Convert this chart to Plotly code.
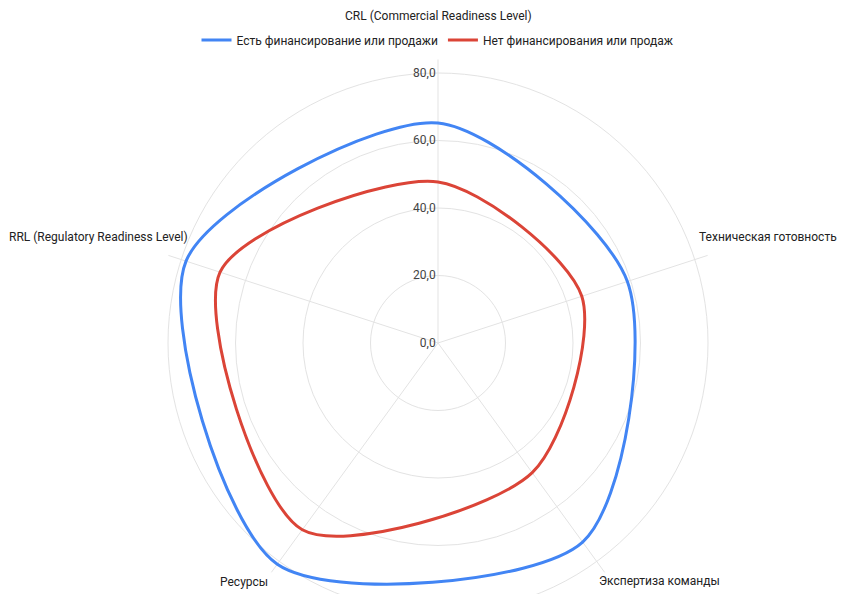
import plotly.graph_objects as go

categories = ["CRL (Commercial Readiness Level)", "Техническая готовность",
              "Экспертиза команды", "Ресурсы", "RRL (Regulatory Readiness Level)"]
series_names = ["Есть финансирование или продажи", "Нет финансирования или продаж"]
funded = [65.2, 59.0, 72.9, 81.0, 78.5]
not_funded = [47.7, 44.8, 47.5, 68.4, 67.9]
radial_ticks = [0, 20, 40, 60, 80]

W, H = 841, 630
cx, cy = 438, 343
rmax = 84
px_per_unit = 270 / 80
R = rmax * px_per_unit

dom_x = [(cx - R) / W, (cx + R) / W]
dom_y = [(H - cy - R) / H, (H - cy + R) / H]

fig = go.Figure()
for name, vals, col in [(series_names[0], funded, "#4285F4"),
                        (series_names[1], not_funded, "#DB4437")]:
    fig.add_trace(go.Scatterpolar(
        r=vals + vals[:1], theta=categories + categories[:1], name=name,
        mode="lines", line=dict(color=col, width=3, shape="spline", smoothing=0.8),
        hoverinfo="skip"))

fig.update_layout(
    width=W, height=H, margin=dict(l=0, r=0, t=0, b=0),
    paper_bgcolor="white", plot_bgcolor="white",
    separators=", ",
    font=dict(family="Roboto, Arial, sans-serif", size=12, color="#222222"),
    showlegend=True,
    legend=dict(orientation="h", x=cx / W, xanchor="center", y=1 - 40 / H, yanchor="middle",
                font=dict(size=12, color="#222222"), itemwidth=30, bgcolor="rgba(0,0,0,0)"),
    polar=dict(
        domain=dict(x=dom_x, y=dom_y),
        bgcolor="white",
        radialaxis=dict(range=[0, rmax], tickvals=radial_ticks, tickformat=".1f",
                        angle=90, tickangle=90, side="counterclockwise",
                        showline=False, ticks="",
                        gridcolor="#e3e3e3", gridwidth=1,
                        tickfont=dict(size=12, color="#444444")),
        angularaxis=dict(direction="clockwise", rotation=90, showline=False,
                         showticklabels=False, ticks="", gridcolor="#e3e3e3", gridwidth=1),
    ),
)

label_pos = [
    (438, 16, "center"),
    (697, 237, "left"),
    (659, 581, "center"),
    (244, 582, "center"),
    (190, 237, "right"),
]
for cat, (x, y, anc) in zip(categories, label_pos):
    fig.add_annotation(text=cat, x=x / W, y=1 - y / H, xref="paper", yref="paper",
                       xanchor=anc, yanchor="middle", showarrow=False,
                       font=dict(size=12, color="#222222"))

fig.write_html("out.html", post_script="document.documentElement.style.overflow='hidden';document.body.style.overflow='hidden';")
